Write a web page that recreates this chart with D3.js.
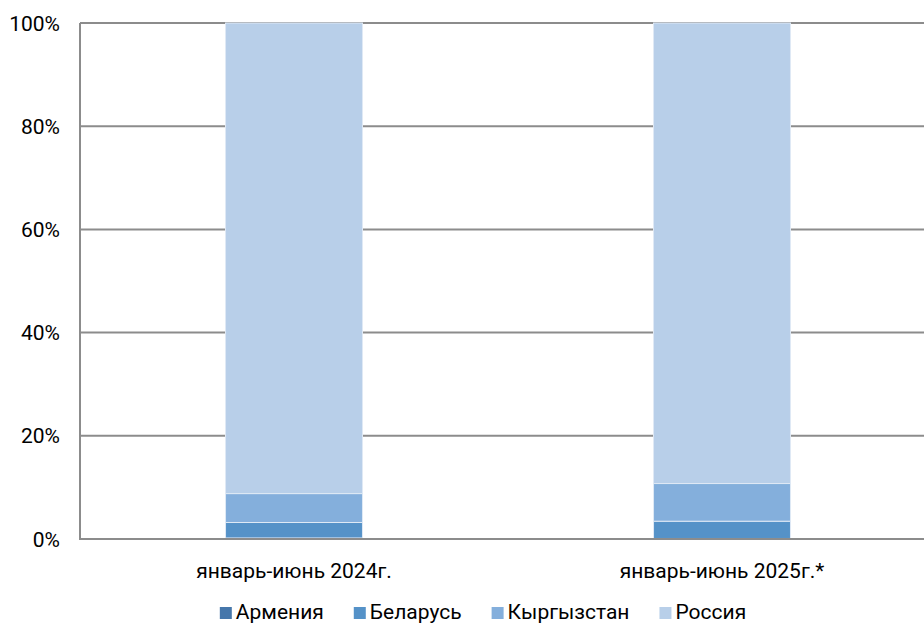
<!DOCTYPE html>
<html><head><meta charset="utf-8">
<script src="https://cdn.jsdelivr.net/npm/d3@7/dist/d3.min.js"></script>
<style>body{margin:0;background:#fff;font-family:Roboto,"Noto Sans",sans-serif}</style>
</head><body><svg id="c" width="924" height="625"></svg>
<script>
const categories = ["январь-июнь 2024г.", "январь-июнь 2025г.*"];
const seriesNames = ["Армения", "Беларусь", "Кыргызстан", "Россия"];
const armenia = [0.2, 0.1];
const belarus = [3.0, 3.35];
const kyrgyzstan = [5.6, 7.3];
const russia = [91.2, 89.25];
const yTicks = [0, 20, 40, 60, 80, 100];
const colors = ["#4677ab", "#5592c8", "#84afdc", "#b8cfe9"];

(function () {
const values = [armenia, belarus, kyrgyzstan, russia];
const rows = categories.map((c, i) => {
  const r = {cat: c};
  seriesNames.forEach((s, j) => r[s] = values[j][i]);
  return r;
});
const stacked = d3.stack().keys(seriesNames)(rows);

const svg = d3.select("#c");
const mLeft = 80, mRight = 936, mTop = 23, mBottom = 539;
const fs = 21;
const x = d3.scaleBand().domain(categories).range([mLeft, mRight]).paddingInner(0.68).paddingOuter(0.34);
const y = d3.scaleLinear().domain([0, 100]).range([mBottom, mTop]);

svg.append("g").selectAll("line").data(yTicks).join("line")
  .attr("x1", mLeft).attr("x2", mRight)
  .attr("y1", d => y(d)).attr("y2", d => y(d))
  .attr("stroke", "#8c8c8c").attr("stroke-width", 2);

svg.append("g").selectAll("g").data(stacked).join("g")
  .attr("fill", (d, i) => colors[i])
  .selectAll("rect").data(d => d).join("rect")
  .attr("x", d => x(d.data.cat))
  .attr("width", x.bandwidth())
  .attr("y", d => y(d[1]))
  .attr("height", d => y(d[0]) - y(d[1]))
  .attr("stroke", "#dfe9f5").attr("stroke-width", 1);

svg.append("line").attr("x1", mLeft).attr("x2", mLeft).attr("y1", mTop).attr("y2", mBottom + 1)
  .attr("stroke", "#8c8c8c").attr("stroke-width", 2);
svg.append("line").attr("x1", mLeft).attr("x2", mRight).attr("y1", mBottom).attr("y2", mBottom)
  .attr("stroke", "#8c8c8c").attr("stroke-width", 2);

svg.append("g").selectAll("text").data(yTicks).join("text")
  .attr("x", 60).attr("y", d => y(d) + 7.5)
  .attr("text-anchor", "end").attr("font-size", fs).attr("fill", "#000")
  .text(d => d + "%");

svg.append("g").selectAll("text").data(categories).join("text")
  .attr("x", d => x(d) + x.bandwidth() / 2).attr("y", 578)
  .attr("text-anchor", "middle").attr("font-size", fs).attr("fill", "#000")
  .text(d => d);

const lg = svg.append("g");
const sq = 12, gapText = 4, gapItem = 30;
let cx = 0;
seriesNames.forEach((s, i) => {
  const g = lg.append("g");
  g.append("rect").attr("x", 0).attr("y", -12).attr("width", sq).attr("height", sq).attr("fill", colors[i]);
  const t = g.append("text").attr("x", sq + gapText).attr("y", 0).attr("font-size", fs).attr("fill", "#000").text(s);
  const w = sq + gapText + t.node().getComputedTextLength();
  g.attr("transform", `translate(${cx},0)`);
  cx += w + gapItem;
});
const totalW = cx - gapItem;
lg.attr("transform", `translate(${483 - totalW / 2},619)`);
})();
</script></body></html>
